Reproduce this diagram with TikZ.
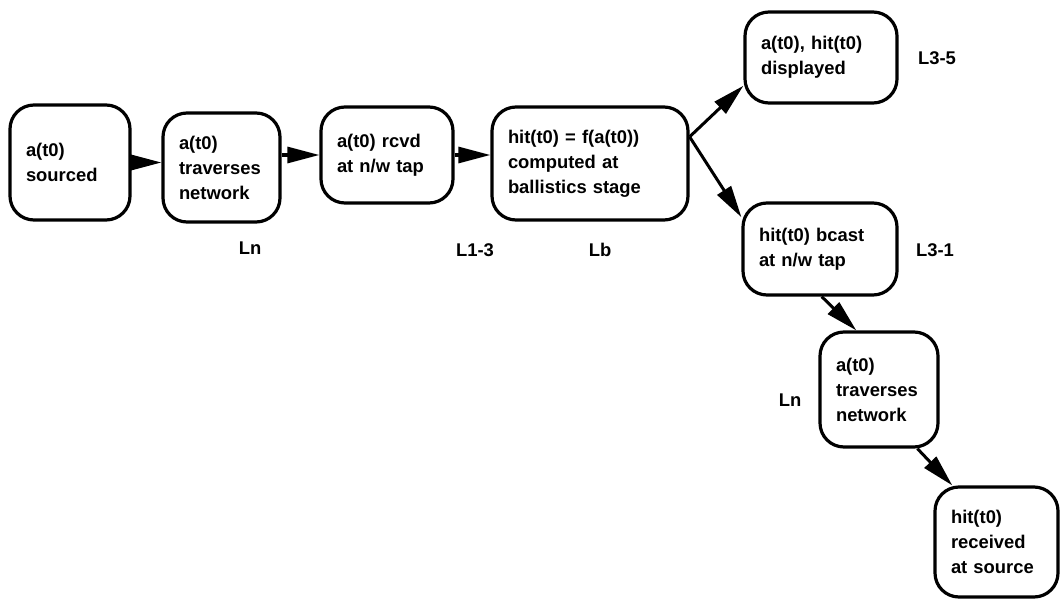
\documentclass[tikz,border=0pt]{standalone}
\usepackage{fontspec}
\setmainfont{Liberation Sans}
\usetikzlibrary{arrows.meta}
\tikzset{
    stage/.style={draw,line width=1.6pt,rounded corners=12pt,align=left,
        inner xsep=8pt,inner ysep=2pt,
        font=\bfseries\fontsize{9.2}{12.5}\selectfont},
    lat/.style={font=\bfseries\fontsize{9.2}{12.5}\selectfont},
    flow/.style={line width=1.5pt,-{Triangle[length=16pt,width=8pt]}}
}
\begin{document}
\begin{tikzpicture}
    [x=0.5pt,y=-0.5pt]
    \useasboundingbox (0,0) rectangle (1060,599);
    %stages along the top row
    \node[stage,text width=44pt,minimum height=57.5pt] (src) at (70,162.5) {a(t0)\\sourced};
    \node[stage,text width=42.5pt,minimum height=54.5pt] (net) at (221.5,167.5) {a(t0)\\traverses\\network};
    \node[stage,text width=50pt,minimum height=48pt] (tap) at (387,155) {a(t0) rcvd\\at n/w tap};
    \node[stage,text width=82pt,minimum height=56.5pt] (ball) at (590,163.5) {hit(t0) = f(a(t0))\\computed at\\ballistics stage};
    %branches
    \node[stage,text width=60pt,minimum height=45.5pt] (disp) at (821,57.5) {a(t0), hit(t0)\\displayed};
    \node[stage,text width=61pt,minimum height=46pt] (bcast) at (820,249) {hit(t0) bcast\\at n/w tap};
    \node[stage,text width=43pt,minimum height=57.5pt] (netback) at (879,389.5) {a(t0)\\traverses\\network};
    \node[stage,text width=45.5pt,minimum height=55pt] (rcv) at (996.5,542) {hit(t0)\\received\\at source};
    %latency labels
    \node[lat] (ln1) at (250,248) {Ln};
    \node[lat] (l13) at (475,250) {L1-3};
    \node[lat] (lb) at (600,250) {Lb};
    \node[lat] (l35) at (937,58) {L3-5};
    \node[lat] (l31) at (935,250) {L3-1};
    \node[lat] (ln2) at (790,400) {Ln};
    %arrows
    \draw[flow] (src.east) -- (src.east -| net.west);
    \draw[flow] (tap.west -| net.east) -- (tap.west);
    \draw[flow] (tap.east) -- (tap.east -| ball.west);
    \draw[flow] (ball.15) -- (disp.200);
    \draw[flow] (ball.15) -- (bcast.158);
    \draw[flow] (bcast.272) -- (netback.111);
    \draw[flow] (netback.303) -- (rcv.128);
\end{tikzpicture}
\end{document}
